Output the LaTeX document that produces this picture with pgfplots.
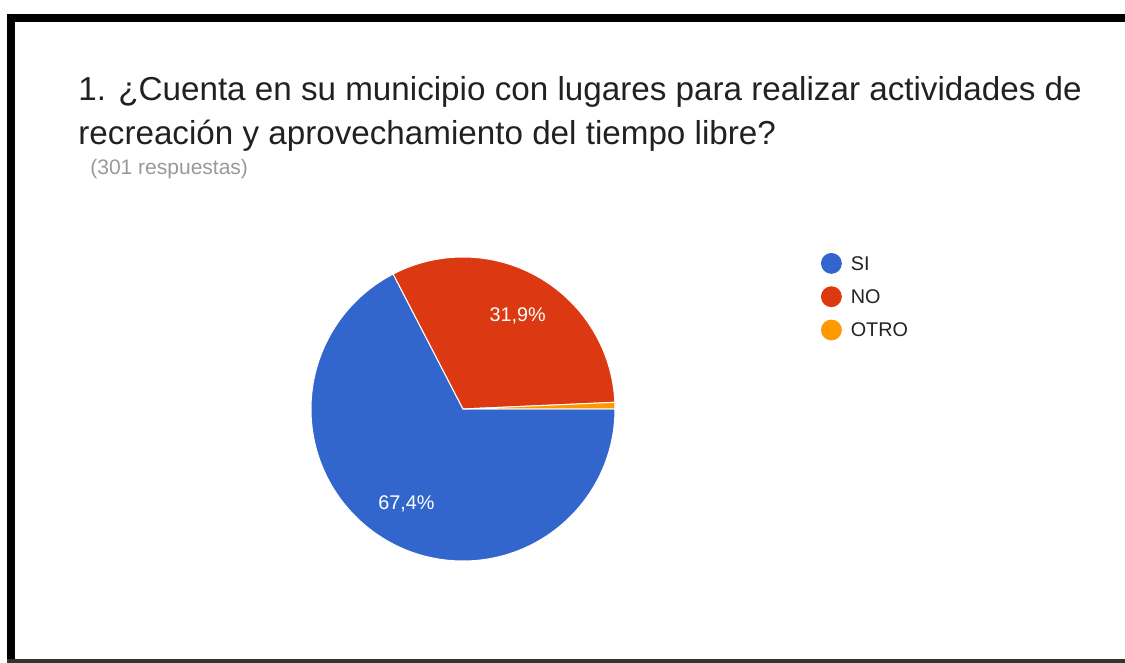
\documentclass[border=0pt]{standalone}
\usepackage{pgfplots}
\usepackage{pgfplotstable}
\pgfplotsset{compat=1.18}
\usepackage{fontspec}
\setmainfont{Liberation Sans}

\definecolor{siblue}{HTML}{3366CC}
\definecolor{nored}{HTML}{DC3912}
\definecolor{otroorange}{HTML}{FF9900}
\definecolor{titletext}{HTML}{212121}
\definecolor{subtext}{HTML}{999999}
\definecolor{legtext}{HTML}{222222}

% respuestas (%), in the order the slices are drawn, clockwise from 3 o'clock
\pgfplotstableread{
label value color
SI 67.4 siblue
NO 31.9 nored
OTRO 0.7 otroorange
}\piedata

\begin{document}
\begin{tikzpicture}
\begin{axis}[
    width=562.5pt, height=331.5pt, scale only axis,
    xmin=0, xmax=1125, ymin=0, ymax=663,
    hide axis, clip=false,
    legend style={
        at={(axis cs:821,410)}, anchor=north west,
        draw=none, fill=none, inner sep=0pt, outer sep=0pt,
        row sep=6.25pt, column sep=4.5pt,
        cells={anchor=west},
        nodes={inner sep=0pt, text depth=0pt, font=\fontsize{9.9}{12}\selectfont, text=legtext},
    },
]
% area completa de la imagen
\path (axis cs:0,0) rectangle (axis cs:1125,663);
% marco
\fill[black] (axis cs:7,0) rectangle (axis cs:15,649);
\fill[black] (axis cs:7,641) rectangle (axis cs:1125,649);
\fill[black!80] (axis cs:7,0) rectangle (axis cs:1125,3.5);

% sectores
\def\cumangle{0}
\pgfplotsinvokeforeach{0,1,2}{
    \pgfplotstablegetelem{#1}{value}\of\piedata
    \let\val\pgfplotsretval
    \pgfplotstablegetelem{#1}{color}\of\piedata
    \let\col\pgfplotsretval
    \pgfmathsetmacro\endangle{\cumangle-3.6*\val}
    \pgfmathsetmacro\sx{463+152*cos(\cumangle)}
    \pgfmathsetmacro\sy{254+152*sin(\cumangle)}
    \edef\temp{\noexpand\fill[\col, draw=white, line width=0.5pt]
        (axis cs:463,254) -- (axis cs:\sx,\sy)
        arc[start angle=\cumangle, end angle=\endangle, radius=76pt] -- cycle;}
    \temp
    \ifdim\val pt>5pt
        \pgfmathsetmacro\midangle{(\cumangle+\endangle)/2}
        \pgfmathsetmacro\lx{463+109*cos(\midangle)}
        \pgfmathsetmacro\ly{254+109*sin(\midangle)-7}
        \edef\temp{\noexpand\node[anchor=base, text=white, inner sep=0pt,
            font=\noexpand\fontsize{9.9}{12}\noexpand\selectfont]
            at (axis cs:\lx,\ly) {\noexpand\pgfmathprintnumber[fixed, precision=1,
            fixed zerofill, use comma, assume math mode=true]{\val}\noexpand\%};}
        \temp
    \fi
    \xdef\cumangle{\endangle}
}

% leyenda
\addlegendimage{legend image code/.code={\fill[siblue] (0pt,0pt) circle[radius=5pt];}}
\addlegendentry{SI}
\addlegendimage{legend image code/.code={\fill[nored] (0pt,0pt) circle[radius=5pt];}}
\addlegendentry{NO}
\addlegendimage{legend image code/.code={\fill[otroorange] (0pt,0pt) circle[radius=5pt];}}
\addlegendentry{OTRO}

% titulo
\node[anchor=base west, inner sep=0pt, text=titletext, font=\fontsize{16.6}{20}\selectfont]
    at (axis cs:78,562) {1. ¿Cuenta en su municipio con lugares para realizar actividades de};
\node[anchor=base west, inner sep=0pt, text=titletext, font=\fontsize{16.6}{20}\selectfont]
    at (axis cs:78,518) {recreación y aprovechamiento del tiempo libre?};
\node[anchor=base west, inner sep=0pt, text=subtext, font=\fontsize{10.5}{12}\selectfont]
    at (axis cs:90,488) {(301 respuestas)};
\end{axis}
\end{tikzpicture}
\end{document}
